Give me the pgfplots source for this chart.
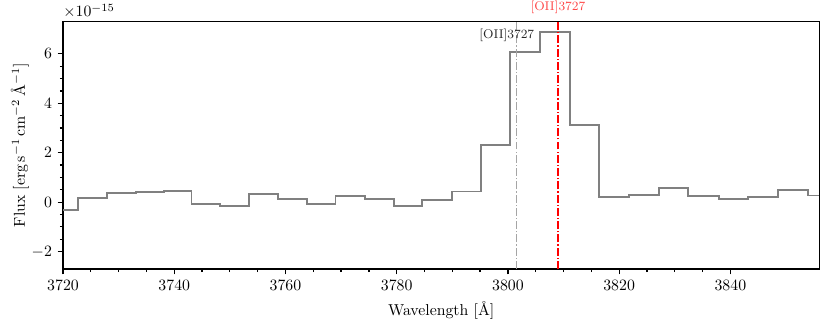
\documentclass[border=0pt]{standalone}
\usepackage{pgfplots}
\pgfplotsset{compat=1.18}
\definecolor{specgray}{RGB}{128,128,128}
\definecolor{linegray}{RGB}{165,165,165}
\definecolor{labred}{RGB}{255,70,70}
\definecolor{vred}{RGB}{255,0,0}

\begin{document}
\begin{tikzpicture}
\useasboundingbox (-39.9pt,-34.8pt) rectangle (486.1pt,170.2pt);
\begin{axis}[
  scale only axis,
  width=478.7pt,
  height=156.5pt,
  xmin=3720, xmax=3856,
  ymin=-2.7, ymax=7.3,
  xtick={3720,3740,...,3840},
  ytick={-2,0,2,4,6},
  minor x tick num=3,
  minor y tick num=3,
  tick align=outside,
  xtick pos=left,
  ytick pos=left,
  major tick length=3.5pt,
  minor tick length=2pt,
  axis line style={line width=0.8pt},
  tick style={line width=0.8pt, black},
  xticklabel style={/pgf/number format/1000 sep={}},
  xlabel={Wavelength [\AA]},
  ylabel={Flux [erg\,s$^{-1}$\,cm$^{-2}$\,\AA$^{-1}$]},
  ylabel style={yshift=-5pt},
  clip=true,
]
\addplot[specgray, line width=1.2pt, const plot mark left] coordinates {
(3720,-0.31) (3722.75,0.15) (3727.85,0.36) (3733.1,0.40) (3738.15,0.44)
(3743.1,-0.08) (3748.2,-0.14) (3753.5,0.34) (3758.7,0.11) (3763.8,-0.08)
(3769.0,0.23) (3774.3,0.13) (3779.5,-0.15) (3784.6,0.09) (3789.9,0.43)
(3795.1,2.32) (3800.45,6.07) (3805.8,6.87) (3811.1,3.13) (3816.4,0.21)
(3821.7,0.28) (3827.1,0.57) (3832.4,0.23) (3837.9,0.11) (3843.2,0.19)
(3848.6,0.49) (3854.0,0.27) (3856,0.27)
};
\addplot[draw=linegray, line width=0.65pt, dash pattern=on 5pt off 1.3pt on 0.8pt off 1.3pt] coordinates {(3801.5,-2.7) (3801.5,7.3)};
\addplot[draw=vred, color=vred, line width=0.75pt, dash pattern=on 5pt off 1.3pt on 0.8pt off 1.3pt] coordinates {(3809.0,-2.7) (3809.0,7.3)};
\node[font=\footnotesize, text=black!85] at (axis cs:3799.8,6.73) {[OII]3727};
\coordinate (redtop) at (axis cs:3809.0,7.3);
\end{axis}
\node[font=\footnotesize, text=labred, anchor=south, yshift=1.5pt] at (redtop) {[OII]3727};
\node[anchor=south west, inner sep=0pt] at (0pt,158.5pt) {$\times10^{-15}$};
\end{tikzpicture}
\end{document}
